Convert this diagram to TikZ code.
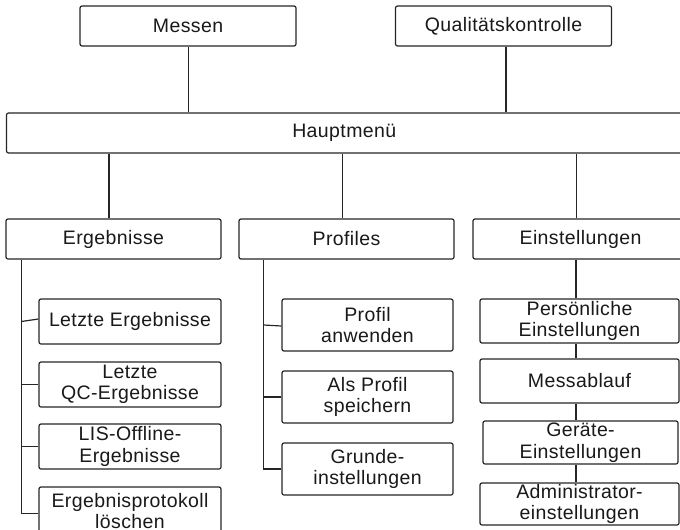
\documentclass[tikz,border=0pt]{standalone}
\usepackage{fontspec}
\setmainfont{Liberation Sans}[LetterSpace=2.0]
\begin{document}
\begin{tikzpicture}[x=1pt,y=-1pt,
  box/.style={draw=black!85, line width=1.2pt, rounded corners=2pt, fill=white,
    inner sep=0pt, align=center, text=black!90,
    font=\fontsize{19.5}{21.5}\selectfont},
  conn/.style={draw=black!85, line width=1.2pt}]
\useasboundingbox (0,0) rectangle (680,530);
\clip (0,0) rectangle (680,530);
% top
\node[box, minimum width=216pt, minimum height=40pt] (messen) at (188,26) {Messen};
\node[box, minimum width=216pt, minimum height=40pt] (qc) at (503.5,26) {Qualitätskontrolle};
\node[box, minimum width=675.5pt, minimum height=40pt] (haupt) at (344.25,133) {Hauptmenü};
% second level
\node[box, minimum width=215pt, minimum height=40pt] (erg) at (113.5,239) {Ergebnisse};
\node[box, minimum width=215pt, minimum height=40pt] (prof) at (346.5,239) {Profiles};
\node[box, minimum width=215pt, minimum height=40pt] (ein) at (580.5,239) {Einstellungen};
% Ergebnisse children
\node[box, minimum width=182pt, minimum height=45pt] (le) at (130,321.5) {Letzte Ergebnisse};
\node[box, minimum width=182pt, minimum height=45pt] (lqc) at (130,384.5) {Letzte\\QC-Ergebnisse};
\node[box, minimum width=182pt, minimum height=45pt] (lis) at (130,446.5) {LIS-Offline-\\Ergebnisse};
\node[box, minimum width=182pt, minimum height=48pt] (ep) at (130,511) {Ergebnisprotokoll\\löschen};
% Profiles children
\node[box, minimum width=171pt, minimum height=52pt] (pa) at (367.5,325) {Profil\\anwenden};
\node[box, minimum width=171pt, minimum height=52pt] (ap) at (367.5,397) {Als Profil\\speichern};
\node[box, minimum width=171pt, minimum height=52pt] (gr) at (367.5,469) {Grunde-\\instellungen};
% Einstellungen children
\node[box, minimum width=199pt, minimum height=44pt] (pe) at (579.5,321) {Persönliche\\Einstellungen};
\node[box, minimum width=199pt, minimum height=44pt] (ma) at (579.5,381) {Messablauf};
\node[box, minimum width=195pt, minimum height=43pt] (ge) at (580.5,442.5) {Geräte-\\Einstellungen};
\node[box, minimum width=199pt, minimum height=42pt] (ad) at (579.5,504) {Administrator-\\einstellungen};
% connectors top
\draw[conn] ([xshift=0.6pt]messen.south) -- ([xshift=0.6pt]messen.south |- haupt.north);
\draw[conn] ([xshift=2.5pt]qc.south) -- ([xshift=2.5pt]qc.south |- haupt.north);
\draw[conn] ([xshift=-4.5pt]erg.north) -- ([xshift=-4.5pt]erg.north |- haupt.south);
\draw[conn] ([xshift=-4pt]prof.north) -- ([xshift=-4pt]prof.north |- haupt.south);
\draw[conn] ([xshift=-4pt]ein.north) -- ([xshift=-4pt]ein.north |- haupt.south);
% Ergebnisse trunk
\coordinate (et) at ([xshift=16pt]erg.south west);
\draw[conn] (et) |- ([yshift=-2.5pt]ep.west);
\draw[conn] (et |- le.west) -- ([yshift=2.5pt]le.west);
\draw[conn] (et |- lqc.west) -- (lqc.west);
\draw[conn] (et |- lis.west) -- (lis.west);
% Profiles trunk
\coordinate (pt) at ([xshift=25pt]prof.south west);
\draw[conn] (pt) |- (gr.west);
\draw[conn] (pt |- pa.west) -- ([yshift=-1pt]pa.west);
\draw[conn] (pt |- ap.west) -- (ap.west);
% Einstellungen chain
\coordinate (ec) at ([xshift=-4.5pt]ein.south);
\draw[conn] (ec) -- (ec |- pe.north);
\draw[conn] (ec |- pe.south) -- (ec |- ma.north);
\draw[conn] (ec |- ma.south) -- (ec |- ge.north);
\draw[conn] (ec |- ge.south) -- (ec |- ad.north);
\end{tikzpicture}
\end{document}
